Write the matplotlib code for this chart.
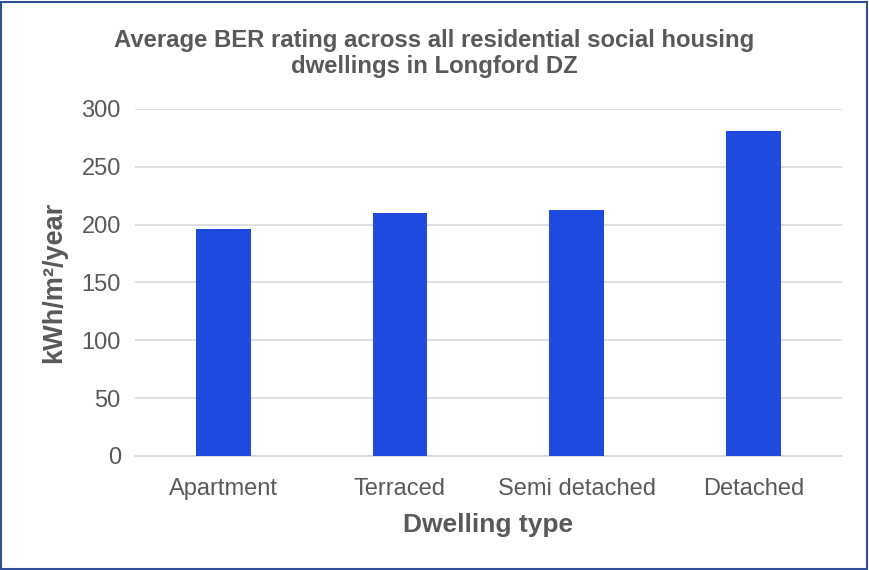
import matplotlib.pyplot as plt
from matplotlib.patches import Rectangle

plt.rcParams['font.family'] = ['Liberation Sans', 'DejaVu Sans']

# Data
dwelling_types = ['Apartment', 'Terraced', 'Semi detached', 'Detached']
avg_ber = [196, 210, 213, 281]
y_ticks = [0, 50, 100, 150, 200, 250, 300]

text_grey = '#595959'
bar_blue = '#1F4AE0'

fig = plt.figure(figsize=(8.69, 5.70), dpi=100)
ax = fig.add_axes([0.155, 0.2, 0.814, 0.609])

x = range(len(dwelling_types))
ax.bar(x, avg_ber, width=0.31, color=bar_blue, zorder=3)

ax.set_xlim(-0.5, len(dwelling_types) - 0.5)
ax.set_ylim(0, 300)
ax.set_yticks(y_ticks)
ax.set_xticks(list(x))
ax.set_xticklabels(dwelling_types)

ax.grid(axis='y', color='#D9D9D9', linewidth=1.2, zorder=0)
for side in ['top', 'right', 'left']:
    ax.spines[side].set_visible(False)
ax.spines['bottom'].set_color('#D9D9D9')
ax.spines['bottom'].set_linewidth(1.2)
ax.tick_params(axis='both', length=0, labelsize=17, labelcolor=text_grey)
ax.tick_params(axis='x', pad=16)
ax.tick_params(axis='y', pad=10)

ax.set_xlabel('Dwelling type', fontsize=19, fontweight='bold', color=text_grey, labelpad=9)
ax.set_ylabel('kWh/m²/year', fontsize=19.5, fontweight='bold', color=text_grey, labelpad=10)

fig.text(0.5, 0.906, 'Average BER rating across all residential social housing\ndwellings in Longford DZ',
         ha='center', va='center', fontsize=17.2, fontweight='bold', color=text_grey, linespacing=1.2)

# dark blue frame around the whole chart
fig.patches.append(Rectangle((0.0015, 0.002), 0.996, 0.995, transform=fig.transFigure,
                             fill=False, edgecolor='#2F4F9A', linewidth=1.5))

fig.savefig('out.png', dpi=100)
